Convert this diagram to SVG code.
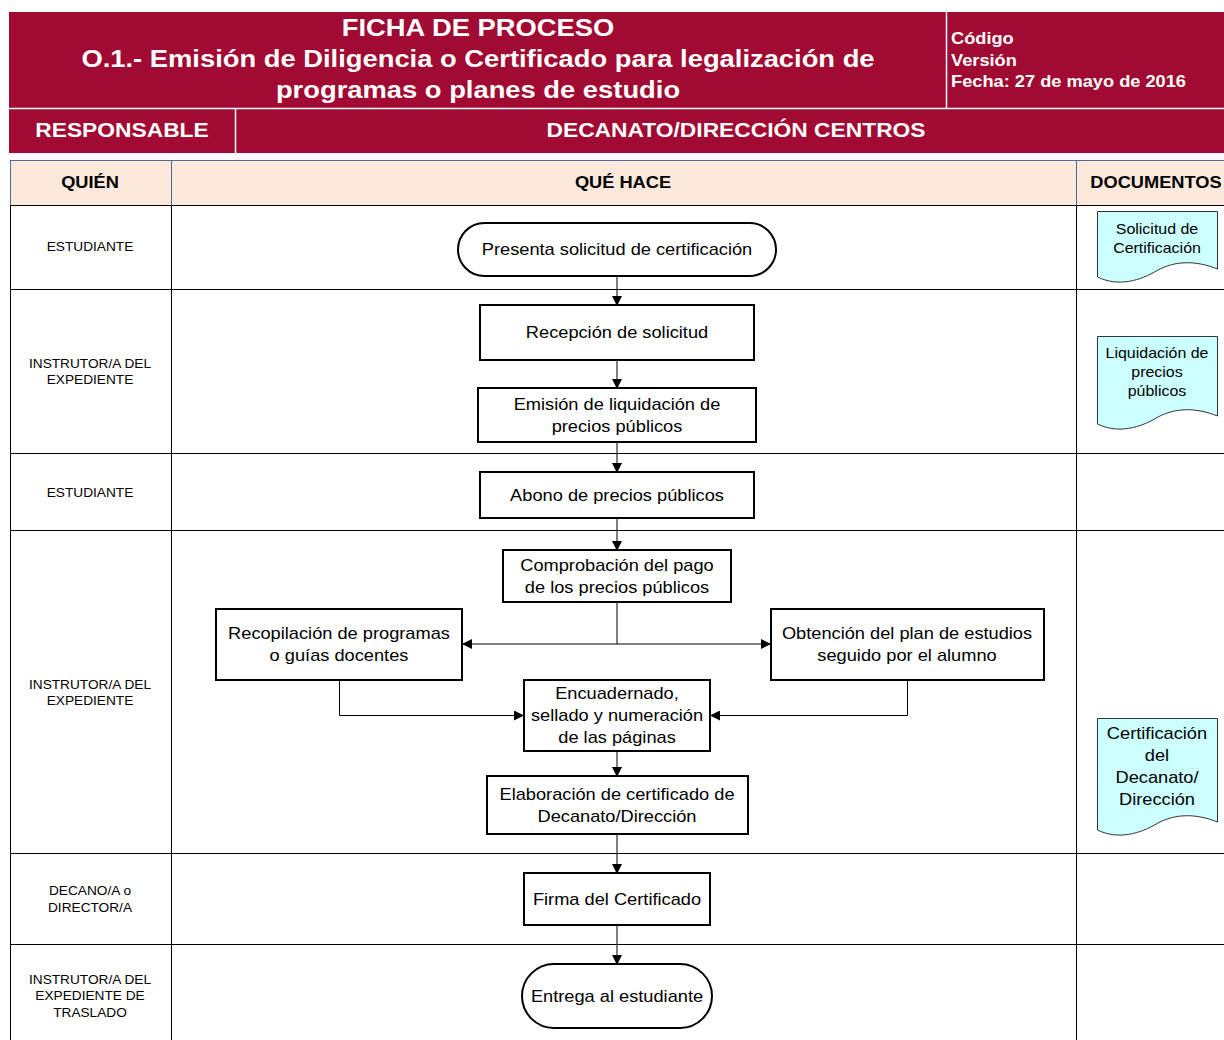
<svg xmlns="http://www.w3.org/2000/svg" width="1224" height="1040" viewBox="0 0 1224 1040">
<defs>
<marker id="ah" markerWidth="10" markerHeight="10" refX="9" refY="5" orient="auto" markerUnits="userSpaceOnUse">
<path d="M0,0 L10,5 L0,10 Z" fill="#000"/>
</marker>
<style>
text{font-family:"Liberation Sans",Arial,sans-serif;fill:#000}
.hd{fill:#fff;font-weight:bold}
.c{text-anchor:middle}
.lane{font-size:12px;text-anchor:middle}
.th{font-size:16px;font-weight:bold;text-anchor:middle}
.nt{font-size:16px;text-anchor:middle}
.dt{font-size:14px;text-anchor:middle}
.box{fill:#fff;stroke:#000;stroke-width:2}
.doc{fill:#ccffff;stroke:#333;stroke-width:1}
.grid{stroke:#000;stroke-width:1;fill:none}
.con{stroke:#000;stroke-width:1;fill:none}
</style>
</defs>
<rect x="0" y="0" width="1224" height="1040" fill="#fff"/>
<g id="header">
<rect x="9" y="12" width="1215" height="141" fill="#a10a32"/>
<line x1="9" y1="108.5" x2="1224" y2="108.5" stroke="#fff" stroke-width="1.5"/>
<line x1="946.5" y1="12" x2="946.5" y2="108" stroke="#fff" stroke-width="1.5"/>
<line x1="235.5" y1="108" x2="235.5" y2="153" stroke="#fff" stroke-width="1.5"/>
<text class="hd c" font-size="24" transform="translate(478 36) scale(1.14 1)">FICHA DE PROCESO</text>
<text class="hd c" font-size="24" transform="translate(478 67) scale(1.14 1)">O.1.- Emisión de Diligencia o Certificado para legalización de</text>
<text class="hd c" font-size="24" transform="translate(478 98) scale(1.14 1)">programas o planes de estudio</text>
<text class="hd" font-size="16" transform="translate(951 44) scale(1.14 1)">Código</text>
<text class="hd" font-size="16" transform="translate(951 66) scale(1.14 1)">Versión</text>
<text class="hd" font-size="16" transform="translate(951 87) scale(1.14 1)">Fecha: 27 de mayo de 2016</text>
<text class="hd c" font-size="20" transform="translate(122 137) scale(1.14 1)">RESPONSABLE</text>
<text class="hd c" font-size="20" transform="translate(736 137) scale(1.14 1)">DECANATO/DIRECCIÓN CENTROS</text>
</g>
<g id="table">
<rect x="10.5" y="160.5" width="1214" height="45" fill="#fce9db" stroke="#4f6a99" stroke-width="1"/>
<line x1="171.5" y1="160" x2="171.5" y2="205" stroke="#4f6a99"/>
<line x1="1076.5" y1="160" x2="1076.5" y2="205" stroke="#4f6a99"/>
<text class="th" transform="translate(90 188) scale(1.14 1)">QUIÉN</text>
<text class="th" transform="translate(623 188) scale(1.14 1)">QUÉ HACE</text>
<text class="th" transform="translate(1156 188) scale(1.14 1)">DOCUMENTOS</text>
<line class="grid" x1="10" y1="205.5" x2="1224" y2="205.5"/>
<line class="grid" x1="10" y1="289.5" x2="1224" y2="289.5"/>
<line class="grid" x1="10" y1="453.5" x2="1224" y2="453.5"/>
<line class="grid" x1="10" y1="530.5" x2="1224" y2="530.5"/>
<line class="grid" x1="10" y1="853.5" x2="1224" y2="853.5"/>
<line class="grid" x1="10" y1="944.5" x2="1224" y2="944.5"/>
<line class="grid" x1="10.5" y1="205" x2="10.5" y2="1040"/>
<line class="grid" x1="171.5" y1="205" x2="171.5" y2="1040"/>
<line class="grid" x1="1076.5" y1="205" x2="1076.5" y2="1040"/>
<text class="lane" transform="translate(90 251) scale(1.14 1)">ESTUDIANTE</text>
<text class="lane" transform="translate(90 368) scale(1.14 1)">INSTRUTOR/A DEL</text>
<text class="lane" transform="translate(90 384) scale(1.14 1)">EXPEDIENTE</text>
<text class="lane" transform="translate(90 497) scale(1.14 1)">ESTUDIANTE</text>
<text class="lane" transform="translate(90 689) scale(1.14 1)">INSTRUTOR/A DEL</text>
<text class="lane" transform="translate(90 705) scale(1.14 1)">EXPEDIENTE</text>
<text class="lane" transform="translate(90 895) scale(1.14 1)">DECANO/A o</text>
<text class="lane" transform="translate(90 912) scale(1.14 1)">DIRECTOR/A</text>
<text class="lane" transform="translate(90 984) scale(1.14 1)">INSTRUTOR/A DEL</text>
<text class="lane" transform="translate(90 1000) scale(1.14 1)">EXPEDIENTE DE</text>
<text class="lane" transform="translate(90 1017) scale(1.14 1)">TRASLADO</text>
</g>
<g id="connectors">
<line class="con" x1="617" y1="276" x2="617" y2="305" marker-end="url(#ah)"/>
<line class="con" x1="617" y1="360" x2="617" y2="388" marker-end="url(#ah)"/>
<line class="con" x1="617" y1="442" x2="617" y2="472" marker-end="url(#ah)"/>
<line class="con" x1="617" y1="518" x2="617" y2="550" marker-end="url(#ah)"/>
<line class="con" x1="617" y1="602" x2="617" y2="644"/>
<line class="con" x1="617" y1="644" x2="463" y2="644" marker-end="url(#ah)"/>
<line class="con" x1="617" y1="644" x2="770" y2="644" marker-end="url(#ah)"/>
<polyline class="con" points="339.5,680 339.5,715.5 523,715.5" marker-end="url(#ah)"/>
<polyline class="con" points="907.5,680 907.5,715.5 711,715.5" marker-end="url(#ah)"/>
<line class="con" x1="617" y1="751" x2="617" y2="776" marker-end="url(#ah)"/>
<line class="con" x1="617" y1="834" x2="617" y2="873" marker-end="url(#ah)"/>
<line class="con" x1="617" y1="925" x2="617" y2="964" marker-end="url(#ah)"/>
</g>
<g id="n1"><rect class="box" x="458" y="223" width="318" height="53" rx="26.5"/><text class="nt" transform="translate(617 255) scale(1.14 1)">Presenta solicitud de certificación</text></g>
<g id="n2"><rect class="box" x="480" y="305" width="274" height="55"/><text class="nt" transform="translate(617 338) scale(1.14 1)">Recepción de solicitud</text></g>
<g id="n3"><rect class="box" x="478" y="388" width="278" height="54"/><text class="nt" transform="translate(617 410) scale(1.14 1)">Emisión de liquidación de</text><text class="nt" transform="translate(617 432) scale(1.14 1)">precios públicos</text></g>
<g id="n4"><rect class="box" x="480" y="472" width="274" height="46"/><text class="nt" transform="translate(617 501) scale(1.14 1)">Abono de precios públicos</text></g>
<g id="n5"><rect class="box" x="503" y="550" width="228" height="52"/><text class="nt" transform="translate(617 571) scale(1.14 1)">Comprobación del pago</text><text class="nt" transform="translate(617 593) scale(1.14 1)">de los precios públicos</text></g>
<g id="n6"><rect class="box" x="216" y="609" width="246" height="71"/><text class="nt" transform="translate(339 639) scale(1.14 1)">Recopilación de programas</text><text class="nt" transform="translate(339 661) scale(1.14 1)">o guías docentes</text></g>
<g id="n7"><rect class="box" x="771" y="609" width="273" height="71"/><text class="nt" transform="translate(907 639) scale(1.14 1)">Obtención del plan de estudios</text><text class="nt" transform="translate(907 661) scale(1.14 1)">seguido por el alumno</text></g>
<g id="n8"><rect class="box" x="524" y="680" width="186" height="71"/><text class="nt" transform="translate(617 699) scale(1.14 1)">Encuadernado,</text><text class="nt" transform="translate(617 721) scale(1.14 1)">sellado y numeración</text><text class="nt" transform="translate(617 743) scale(1.14 1)">de las páginas</text></g>
<g id="n9"><rect class="box" x="487" y="776" width="261" height="58"/><text class="nt" transform="translate(617 800) scale(1.14 1)">Elaboración de certificado de</text><text class="nt" transform="translate(617 822) scale(1.14 1)">Decanato/Dirección</text></g>
<g id="n10"><rect class="box" x="524" y="873" width="186" height="52"/><text class="nt" transform="translate(617 905) scale(1.14 1)">Firma del Certificado</text></g>
<g id="n11"><rect class="box" x="522" y="964" width="190" height="64" rx="32"/><text class="nt" transform="translate(617 1002) scale(1.14 1)">Entrega al estudiante</text></g>
<g id="d1"><path class="doc" d="M1097.5,211.5 H1217.5 V269 C1195,260 1175,261 1158,270 C1140,281 1118,287 1097.5,277 Z"/><text class="dt" transform="translate(1157 234) scale(1.14 1)">Solicitud de</text><text class="dt" transform="translate(1157 253) scale(1.14 1)">Certificación</text></g>
<g id="d2"><path class="doc" d="M1097.5,336.5 H1217.5 V416 C1195,407 1175,408 1158,417 C1140,428 1118,434 1097.5,424 Z"/><text class="dt" transform="translate(1157 358) scale(1.14 1)">Liquidación de</text><text class="dt" transform="translate(1157 377) scale(1.14 1)">precios</text><text class="dt" transform="translate(1157 396) scale(1.14 1)">públicos</text></g>
<g id="d3"><path class="doc" d="M1097.5,718.5 H1217.5 V822 C1195,813 1175,814 1158,823 C1140,834 1118,840 1097.5,830 Z"/><text class="nt" font-size="17" transform="translate(1157 739) scale(1.14 1)">Certificación</text><text class="nt" font-size="17" transform="translate(1157 761) scale(1.14 1)">del</text><text class="nt" font-size="17" transform="translate(1157 783) scale(1.14 1)">Decanato/</text><text class="nt" font-size="17" transform="translate(1157 805) scale(1.14 1)">Dirección</text></g>
</svg>
